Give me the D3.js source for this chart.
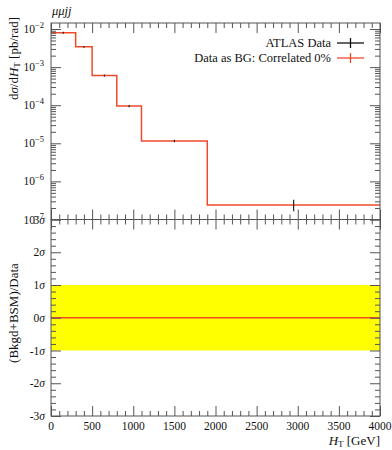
<!DOCTYPE html>
<html>
<head>
<meta charset="utf-8">
<script src="https://cdn.jsdelivr.net/npm/d3@7/dist/d3.min.js"></script>
<style>
  body { margin: 0; background: #fff; }
  svg text { font-family: "Liberation Serif", "DejaVu Serif", serif; fill: #111; }
  .ax line { stroke: #555; }
  .ax path { display: none; }
</style>
</head>
<body>
<div id="chart"></div>
<script>
// bins in H_T [GeV]
const binEdges = [0, 300, 500, 800, 1100, 1900, 4000];
// ATLAS data, dsigma/dHT [pb/rad]
const dataVals = [8.0e-3, 3.4e-3, 6.0e-4, 9.5e-5, 1.15e-5, 2.4e-7];
const dataErrUp = [0.2e-3, 0.1e-3, 0.2e-4, 0.4e-5, 0.05e-5, 0.8e-7];
const dataErrDn = [0.2e-3, 0.1e-3, 0.2e-4, 0.4e-5, 0.05e-5, 0.7e-7];
// prediction (Data as BG: Correlated 0%)
const predVals = [8.0e-3, 3.4e-3, 6.0e-4, 9.5e-5, 1.15e-5, 2.4e-7];
// ratio panel, in sigma
const ratioVals = [0, 0, 0, 0, 0, 0];
const bandLo = -1, bandHi = 1;
const xTicks = [0, 500, 1000, 1500, 2000, 2500, 3000, 3500, 4000];
const yDecades = [-2, -3, -4, -5, -6, -7];
const sigmaTicks = [3, 2, 1, 0, -1, -2, -3];

const W = 392, H = 450;
const L = 51, R = 380, T = 23, MID = 219.5, B = 416;

const svg = d3.select('#chart').append('svg')
  .attr('width', W).attr('height', H);

const x = d3.scaleLinear().domain([0, 4000]).range([L, R]);
const y = d3.scaleLog().domain([1e-7, Math.pow(10, -1.842)]).range([MID, T]);
const yr = d3.scaleLinear().domain([-3, 3]).range([B, MID]);

const redCol = '#ef4a2a';

// ratio band
svg.append('rect')
  .attr('x', x(0)).attr('width', x(4000) - x(0))
  .attr('y', yr(bandHi)).attr('height', yr(bandLo) - yr(bandHi))
  .attr('fill', '#ffff00');

// step line helper
function stepPts(vals) {
  const pts = [];
  vals.forEach((v, i) => {
    pts.push([binEdges[i], v]);
    pts.push([binEdges[i + 1], v]);
  });
  return pts;
}

svg.append('path')
  .datum(stepPts(predVals))
  .attr('fill', 'none').attr('stroke', redCol).attr('stroke-width', 1.5)
  .attr('d', d3.line().x(d => x(d[0])).y(d => y(d[1])));

svg.append('path')
  .datum(stepPts(ratioVals))
  .attr('fill', 'none').attr('stroke', redCol).attr('stroke-width', 1.5)
  .attr('d', d3.line().x(d => x(d[0])).y(d => yr(d[1])));

// data error bars
const centers = binEdges.slice(0, -1).map((e, i) => (e + binEdges[i + 1]) / 2);
svg.append('g').selectAll('line')
  .data(dataVals)
  .join('line')
  .attr('x1', (d, i) => x(centers[i])).attr('x2', (d, i) => x(centers[i]))
  .attr('y1', (d, i) => y(d + dataErrUp[i]) - 0.5)
  .attr('y2', (d, i) => y(d - dataErrDn[i]) + 0.5)
  .attr('stroke', '#222').attr('stroke-width', 1.2);

// ---- axes ----
function minorLog() {
  const out = [];
  for (let e = -7; e <= -2; e++) {
    for (let m = 2; m <= 9; m++) {
      const v = m * Math.pow(10, e);
      if (v < y.domain()[1]) out.push(v);
    }
  }
  return out;
}
const majorLog = yDecades.map(e => Math.pow(10, e));
const xMinor = d3.range(0, 4001, 100).filter(v => v % 500 !== 0);
const sMinor = d3.range(-3, 3.001, 0.2).map(v => +v.toFixed(1)).filter(v => Math.abs(v - Math.round(v)) > 0.01);

function addAxis(axis, tx, ty) {
  svg.append('g').attr('class', 'ax')
    .attr('transform', `translate(${tx},${ty})`)
    .call(axis.tickFormat(''));
}

// upper panel
addAxis(d3.axisLeft(y).tickValues(majorLog).tickSize(-10), L, 0);
addAxis(d3.axisLeft(y).tickValues(minorLog()).tickSize(-5), L, 0);
addAxis(d3.axisRight(y).tickValues(majorLog).tickSize(-10), R, 0);
addAxis(d3.axisRight(y).tickValues(minorLog()).tickSize(-5), R, 0);
addAxis(d3.axisTop(x).tickValues(xTicks).tickSize(-10), 0, T);
addAxis(d3.axisTop(x).tickValues(xMinor).tickSize(-5), 0, T);
addAxis(d3.axisBottom(x).tickValues(xTicks).tickSize(-10), 0, MID);
addAxis(d3.axisBottom(x).tickValues(xMinor).tickSize(-5), 0, MID);

// lower panel
addAxis(d3.axisLeft(yr).tickValues(sigmaTicks).tickSize(-10), L, 0);
addAxis(d3.axisLeft(yr).tickValues(sMinor).tickSize(-5), L, 0);
addAxis(d3.axisRight(yr).tickValues(sigmaTicks).tickSize(-10), R, 0);
addAxis(d3.axisRight(yr).tickValues(sMinor).tickSize(-5), R, 0);
addAxis(d3.axisTop(x).tickValues(xTicks).tickSize(-10), 0, MID);
addAxis(d3.axisTop(x).tickValues(xMinor).tickSize(-5), 0, MID);
addAxis(d3.axisBottom(x).tickValues(xTicks).tickSize(-10), 0, B);
addAxis(d3.axisBottom(x).tickValues(xMinor).tickSize(-5), 0, B);

// frames
svg.append('rect').attr('x', L).attr('y', T).attr('width', R - L).attr('height', MID - T)
  .attr('fill', 'none').attr('stroke', '#555').attr('stroke-width', 1);
svg.append('rect').attr('x', L).attr('y', MID).attr('width', R - L).attr('height', B - MID)
  .attr('fill', 'none').attr('stroke', '#555').attr('stroke-width', 1);

// y tick labels (log)
const yl = svg.append('g').selectAll('text')
  .data(yDecades)
  .join('text')
  .attr('x', 44).attr('y', e => y(Math.pow(10, e)) + 4)
  .attr('text-anchor', 'end').attr('font-size', 11.5);
yl.append('tspan').text('10');
yl.append('tspan').attr('dy', -5).attr('font-size', 8.5).text(e => '\u2212' + (-e));

// sigma labels
const sl = svg.append('g').selectAll('text')
  .data(sigmaTicks)
  .join('text')
  .attr('x', 45).attr('y', s => yr(s) + 4)
  .attr('text-anchor', 'end').attr('font-size', 11.5);
sl.append('tspan').text(s => (s < 0 ? '-' : '') + Math.abs(s));
sl.append('tspan').attr('font-style', 'italic').text('\u03c3');

// x tick labels
svg.append('g').selectAll('text')
  .data(xTicks)
  .join('text')
  .attr('x', d => x(d)).attr('y', 430)
  .attr('text-anchor', 'middle').attr('font-size', 11.5)
  .text(d => d);

// x title
const xt = svg.append('text').attr('x', R).attr('y', 445)
  .attr('text-anchor', 'end').attr('font-size', 13);
xt.append('tspan').attr('font-style', 'italic').text('H');
xt.append('tspan').attr('font-size', 9).attr('dy', 2).text('T');
xt.append('tspan').attr('dy', -2).text(' [GeV]');

// y titles
const yt = svg.append('text')
  .attr('transform', `translate(18,17) rotate(-90)`)
  .attr('text-anchor', 'end').attr('font-size', 13);
yt.append('tspan').text('d');
yt.append('tspan').attr('font-style', 'italic').text('\u03c3');
yt.append('tspan').text('/d');
yt.append('tspan').attr('font-style', 'italic').text('H');
yt.append('tspan').attr('font-size', 9).attr('dy', 2).text('T');
yt.append('tspan').attr('dy', -2).text(' [pb/rad]');

svg.append('text')
  .attr('transform', `translate(18,313) rotate(-90)`)
  .attr('text-anchor', 'middle').attr('font-size', 13)
  .text('(Bkgd+BSM)/Data');

// title
svg.append('text').attr('x', 52).attr('y', 15)
  .attr('font-size', 12.5).attr('font-style', 'italic')
  .text('\u03bc\u03bcjj');

// legend
const legend = [
  { label: 'ATLAS Data', color: '#111' },
  { label: 'Data as BG: Correlated 0%', color: redCol }
];
const lg = svg.append('g').selectAll('g')
  .data(legend)
  .join('g')
  .attr('transform', (d, i) => `translate(0,${43 + i * 15})`);
lg.append('text').attr('x', 331).attr('y', 4)
  .attr('text-anchor', 'end').attr('font-size', 12.5)
  .text(d => d.label);
lg.append('line').attr('x1', 337).attr('x2', 364).attr('y1', 0).attr('y2', 0)
  .attr('stroke', d => d.color).attr('stroke-width', 1.3);
lg.append('line').attr('x1', 350.5).attr('x2', 350.5).attr('y1', -5).attr('y2', 5)
  .attr('stroke', d => d.color).attr('stroke-width', 1.3);
</script>
</body>
</html>
